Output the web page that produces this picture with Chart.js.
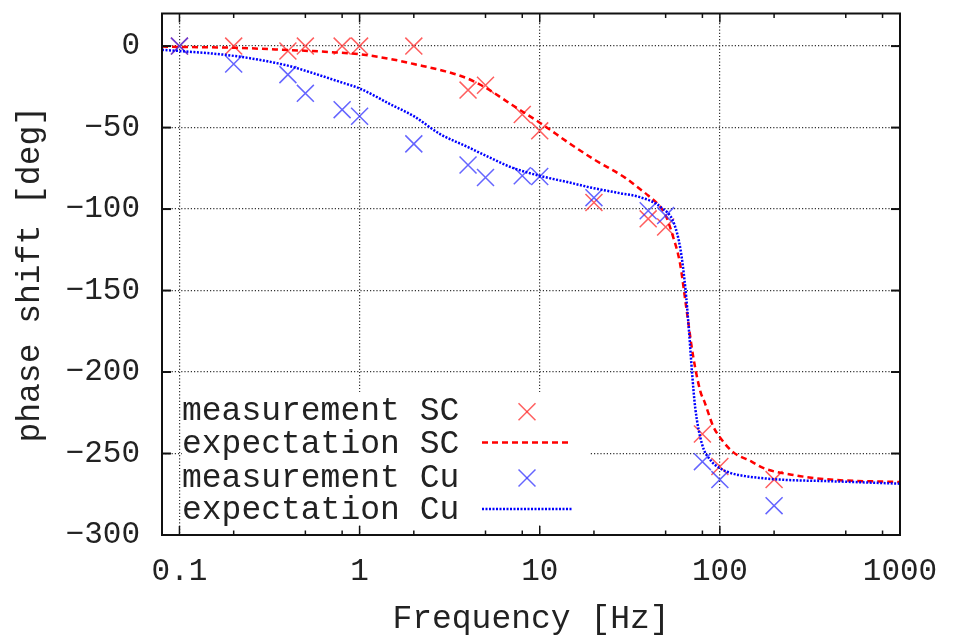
<!DOCTYPE html>
<html>
<head>
<meta charset="utf-8">
<title>phase shift</title>
<script src="https://cdn.jsdelivr.net/npm/chart.js@4.4.1/dist/chart.umd.min.js"></script>
<style>
body{margin:0;background:#fff;}
#wrap{width:955px;height:638px;}
</style>
</head>
<body>
<div id="wrap"><canvas id="c" width="955" height="638"></canvas></div>
<script>
// measured points (Hz / deg)
var freq_meas = [0.1,0.2,0.4,0.5,0.8,1,2,4,5,8,10,20,40,50,80,100,200];
var sc_meas   = [0,0,-3,0,0,0,0,-27,-24,-42,-52,-96,-106,-111,-238,-258,-266];
var cu_meas   = [0,-11,-17.5,-29,-39,-43,-60,-73,-80.6,-79.6,-80,-93,-101,-104,-255,-266,-282];

// expectation curves
var sc_exp_f = [0.08,0.1,0.2,0.4,0.7,1,1.5,2,3,4,5,7,10,15,20,30,36,40,47,50,55,60,65,71,78,82,92,100,118,150,175,270,410,1000];
var sc_exp   = [-0.3,-0.5,-1,-2.4,-3.7,-5,-8,-11,-15.5,-20,-25.5,-36,-47,-60.5,-69.5,-81,-87.7,-91.7,-99,-103.8,-117,-133,-160,-190,-212,-218,-233.5,-240,-249,-255,-259,-263.6,-266,-267.5];
var cu_exp_f = [0.08,0.1,0.2,0.4,0.53,0.78,1,1.5,2,2.8,4,5.3,7,10,15,19,28,36,47,55.6,60.5,64.4,67.2,70.2,73,79.5,88.6,100,115,141,216,409,1000];
var cu_exp   = [-2.3,-3,-6,-12,-16,-22,-26,-36,-43,-54,-62,-68.5,-74.5,-79.6,-84,-86.7,-90.3,-92.7,-98.8,-108.8,-125,-149,-173,-201.5,-222,-244,-254,-259,-262,-264,-266,-267,-268.5];

var x_ticks = [0.1,1,10,100,1000];
var x_minor = [2,5,8];
var y_ticks = [-300,-250,-200,-150,-100,-50,0];
var legend_labels = ['measurement SC','expectation SC','measurement Cu','expectation Cu'];

var FONT = "'Liberation Mono', 'Courier New', monospace";
var RED_PT = 'rgba(255,40,40,0.75)', BLUE_PT = 'rgba(50,50,255,0.75)';

function pairs(xs, ys){
	var out = [];
	for(var i = 0; i < xs.length; i++) out.push({x: xs[i], y: ys[i]});
	return out;
}

function line(ctx, x1, y1, x2, y2){
	ctx.beginPath(); ctx.moveTo(x1, y1); ctx.lineTo(x2, y2); ctx.stroke();
}

function cross(ctx, x, y, r, color){
	var d = r * Math.SQRT1_2;
	ctx.save();
	ctx.strokeStyle = color; ctx.lineWidth = 1.5;
	line(ctx, x-d, y-d, x+d, y+d);
	line(ctx, x-d, y+d, x+d, y-d);
	ctx.restore();
}

// opaque key box like gnuplot, drawn over the grid
var keyPlugin = {
	id: 'key',
	beforeDatasetsDraw: function(chart){
		var ctx = chart.ctx;
		ctx.save();
		ctx.fillStyle = '#fff';
		ctx.fillRect(182, 392, 408, 133);
		ctx.fillStyle = '#222';
		ctx.font = '33px ' + FONT;
		ctx.textBaseline = 'alphabetic';
		ctx.textAlign = 'left';
		var rows = [411.7, 444.5, 478, 510];
		for(var i = 0; i < legend_labels.length; i++){
			ctx.fillText(legend_labels[i], 182, rows[i] + 8.7);
		}
		cross(ctx, 527, rows[0], 12, RED_PT);
		cross(ctx, 527, rows[2], 12, BLUE_PT);
		ctx.lineWidth = 2.5;
		ctx.strokeStyle = '#ff0000'; ctx.setLineDash([6,4]);
		line(ctx, 482, rows[1] - 2, 572, rows[1] - 2);
		ctx.strokeStyle = '#0000ff'; ctx.setLineDash([2,1.5]);
		line(ctx, 482, rows[3] - 1, 572, rows[3] - 1);
		ctx.restore();
	}
};

// inward ticks + frame
var framePlugin = {
	id: 'frame',
	afterDatasetsDraw: function(chart){
		var ctx = chart.ctx, a = chart.chartArea,
			xs = chart.scales.x, ys = chart.scales.y;
		ctx.save();
		ctx.strokeStyle = '#111';
		ctx.lineWidth = 1.5;
		x_ticks.forEach(function(v){
			var px = xs.getPixelForValue(v);
			line(ctx, px, a.bottom, px, a.bottom - 9);
			line(ctx, px, a.top, px, a.top + 9);
			if(v < 1000){
				x_minor.forEach(function(m){
					var q = xs.getPixelForValue(v * m);
					line(ctx, q, a.bottom, q, a.bottom - 4.5);
					line(ctx, q, a.top, q, a.top + 4.5);
				});
			}
		});
		ctx.lineWidth = 2;
		y_ticks.forEach(function(v){
			var py = ys.getPixelForValue(v);
			line(ctx, a.left, py, a.left + 9, py);
			line(ctx, a.right, py, a.right - 9, py);
		});
		ctx.strokeRect(a.left, a.top, a.right - a.left, a.bottom - a.top);
		ctx.restore();
	}
};

new Chart(document.getElementById('c').getContext('2d'), {
	type: 'scatter',
	data: {
		datasets: [
			{ label: legend_labels[0], data: pairs(freq_meas, sc_meas), order: 4,
			  pointStyle: 'crossRot', pointRadius: 12, borderColor: RED_PT, borderWidth: 1.5, showLine: false },
			{ label: legend_labels[1], data: pairs(sc_exp_f, sc_exp), order: 3, showLine: true,
			  pointRadius: 0, borderColor: '#ff0000', borderWidth: 2.5, borderDash: [6,4], cubicInterpolationMode: 'monotone' },
			{ label: legend_labels[2], data: pairs(freq_meas, cu_meas), order: 2,
			  pointStyle: 'crossRot', pointRadius: 12, borderColor: BLUE_PT, borderWidth: 1.5, showLine: false },
			{ label: legend_labels[3], data: pairs(cu_exp_f, cu_exp), order: 1, showLine: true,
			  pointRadius: 0, borderColor: '#0000ff', borderWidth: 2.5, borderDash: [2,1.5], cubicInterpolationMode: 'monotone' }
		]
	},
	options: {
		responsive: false,
		animation: false,
		layout: { padding: { top: 7, right: 55, bottom: 0, left: 0 } },
		plugins: { legend: { display: false }, tooltip: { enabled: false } },
		scales: {
			x: {
				type: 'logarithmic', min: 0.08, max: 1000,
				afterBuildTicks: function(s){ s.ticks = x_ticks.map(function(v){ return {value: v}; }); },
				afterFit: function(s){ s.height = 103; s.paddingLeft = 0; s.paddingRight = 0; },
				ticks: { autoSkip: false, maxRotation: 0, padding: 18, color: '#222',
					font: { family: FONT, size: 31 },
					callback: function(v){ return String(v); } },
				grid: { color: '#333', lineWidth: 1.2, drawTicks: false },
				border: { display: false, dash: [1.2,2] },
				title: { display: true, text: 'Frequency [Hz]', color: '#222',
					font: { family: FONT, size: 33, lineHeight: 1 }, padding: { top: 0, bottom: 2 } }
			},
			y: {
				min: -300, max: 20,
				afterBuildTicks: function(s){ s.ticks = y_ticks.map(function(v){ return {value: v}; }); },
				afterFit: function(s){ s.width = 162; s.paddingTop = 0; s.paddingBottom = 0; },
				ticks: { padding: 22, color: '#222',
					font: { family: FONT, size: 31 },
					callback: function(v){ return String(v).replace('-', '\u2212'); } },
				grid: { color: '#333', lineWidth: 1.2, drawTicks: false },
				border: { display: false, dash: [1.2,2] },
				title: { display: true, text: 'phase shift [deg]', color: '#222',
					font: { family: FONT, size: 33, lineHeight: 1 }, padding: { top: 14, bottom: 0 } }
			}
		}
	},
	plugins: [keyPlugin, framePlugin]
});
</script>
</body>
</html>
